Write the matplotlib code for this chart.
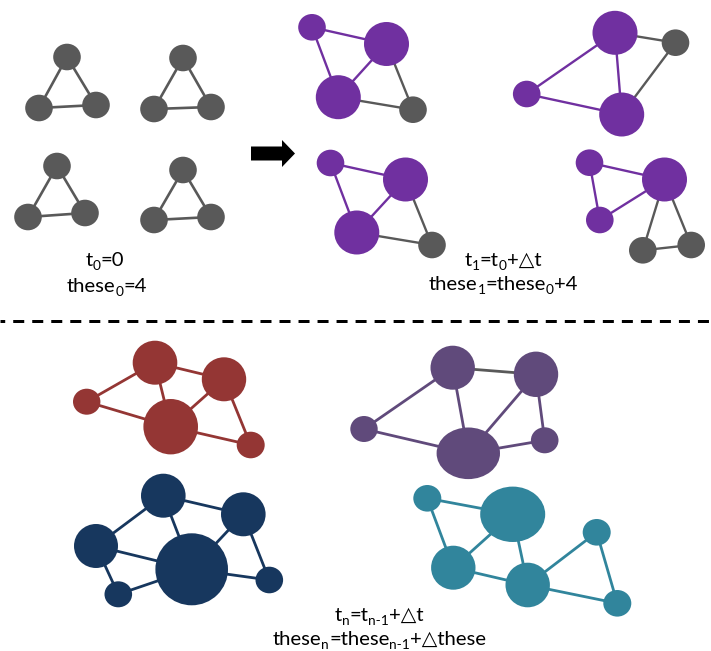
import matplotlib
matplotlib.use('Agg')
import matplotlib.pyplot as plt
from matplotlib.patches import Ellipse, FancyArrow

# ---------------- colours ----------------
GRAY = '#595959'
PURPLE = '#7030A0'
RED = '#943634'
PLUM = '#604A7B'
NAVY = '#17375E'
TEAL = '#31859C'
FONT = ['Lato', 'DejaVu Sans']

# ---------------- data: t0 (four isolated triangles) ----------------
tri_edges = [(0, 1), (0, 2), (1, 2)]
g0a_x = [67, 39, 96];    g0a_y = [57, 108, 105]
g0b_x = [183, 154, 211]; g0b_y = [58, 109, 107]
g0c_x = [57, 28, 85];    g0c_y = [166, 217, 213]
g0d_x = [183, 154, 211]; g0d_y = [170, 220, 217]
tri_rx = [13.8, 13.8, 13.8]
tri_ry = [13.3, 13.3, 13.3]
tri_fill = [GRAY, GRAY, GRAY]
tri_ecol = [GRAY, GRAY, GRAY]

# ---------------- data: t1 ----------------
g1a_x = [312, 386.5, 338.3, 413]
g1a_y = [27.3, 44, 97.2, 109.7]
g1a_rx = [13.8, 22.5, 22.5, 13.8]
g1a_ry = [13.3, 22, 22, 13.3]
g1a_fill = [PURPLE, PURPLE, PURPLE, GRAY]
g1a_edges = [(0, 1), (0, 2), (1, 2), (1, 3), (2, 3)]
g1a_ecol = [PURPLE, PURPLE, PURPLE, GRAY, GRAY]

g1b_x = [615, 675.5, 526.7, 621.7]
g1b_y = [32.8, 42.7, 94, 114.5]
g1b_rx = [22.5, 13.8, 13.8, 22.5]
g1b_ry = [22, 13.3, 13.3, 22]
g1b_fill = [PURPLE, GRAY, PURPLE, PURPLE]
g1b_edges = [(0, 1), (0, 2), (0, 3), (2, 3), (1, 3)]
g1b_ecol = [GRAY, PURPLE, PURPLE, PURPLE, GRAY]

g1c_x = [330.5, 405.5, 356.8, 432]
g1c_y = [163, 179.5, 232.5, 245]
g1c_rx = [13.8, 22.5, 22.5, 13.8]
g1c_ry = [13.3, 22, 22, 13.3]
g1c_fill = [PURPLE, PURPLE, PURPLE, GRAY]
g1c_edges = [(0, 1), (0, 2), (1, 2), (1, 3), (2, 3)]
g1c_ecol = [PURPLE, PURPLE, PURPLE, GRAY, GRAY]

g1d_x = [589.5, 664.5, 599.8, 642.8, 691.2]
g1d_y = [162.7, 179.5, 220, 250.3, 245]
g1d_rx = [13.8, 22.5, 13.8, 13.8, 13.8]
g1d_ry = [13.3, 22, 13.3, 13.3, 13.3]
g1d_fill = [PURPLE, PURPLE, PURPLE, GRAY, GRAY]
g1d_edges = [(0, 1), (0, 2), (2, 1), (1, 3), (1, 4), (3, 4)]
g1d_ecol = [PURPLE, PURPLE, PURPLE, GRAY, GRAY, GRAY]

# ---------------- data: tn ----------------
gna_x = [155, 224, 86.7, 170.7, 250.7]
gna_y = [362.7, 379.3, 401.7, 426.7, 445]
gna_rx = [22.3, 22.2, 13.7, 27.3, 14]
gna_ry = [22, 22, 13, 27.7, 13.3]
gna_edges = [(0, 2), (0, 1), (0, 3), (1, 3), (1, 4), (2, 3), (3, 4)]

gnb_x = [452.7, 536, 364, 468.3, 544.7]
gnb_y = [367.7, 374.3, 429, 453.3, 440.3]
gnb_rx = [22.2, 22.2, 13.7, 31.7, 13.8]
gnb_ry = [22, 22.7, 13, 25.8, 13]
gnb_edges = [(0, 2), (0, 1), (0, 3), (1, 3), (1, 4), (2, 3), (3, 4)]
gnb_ecol = [PLUM, GRAY, PLUM, PLUM, PLUM, PLUM, PLUM]

gnc_x = [163.3, 243.3, 96, 191.7, 269.3, 118.3]
gnc_y = [495.7, 514.3, 546, 569.3, 580, 594.3]
gnc_rx = [22.3, 22.3, 22, 36.3, 13.8, 13.8]
gnc_ry = [22, 22, 22, 36, 13.3, 13]
gnc_edges = [(0, 2), (0, 1), (0, 3), (1, 3), (1, 4), (2, 3), (2, 5), (5, 3), (3, 4)]

gnd_x = [427.3, 512.7, 453.3, 527.7, 596.7, 617.3]
gnd_y = [498.3, 514.3, 567.7, 585, 532.3, 603.3]
gnd_rx = [14, 32.5, 22.2, 22.2, 14, 14]
gnd_ry = [13.3, 27.7, 22, 22.3, 13.3, 13.3]
gnd_edges = [(0, 1), (0, 2), (1, 2), (1, 3), (2, 3), (3, 4), (3, 5), (4, 5)]

# ---------------- figure ----------------
fig = plt.figure(figsize=(7.11, 6.51), dpi=100)
ax = fig.add_axes([0, 0, 1, 1])
ax.set_xlim(0, 711)
ax.set_ylim(651, 0)
ax.axis('off')


def draw_graph(xs, ys, rxs, rys, fills, edges, ecols, lw):
    for (a, b), c in zip(edges, ecols):
        ax.plot([xs[a], xs[b]], [ys[a], ys[b]], color=c, lw=lw,
                solid_capstyle='butt', zorder=1)
    for x, y, rx, ry, f in zip(xs, ys, rxs, rys, fills):
        ax.add_patch(Ellipse((x, y), 2 * rx, 2 * ry, facecolor=f,
                             edgecolor='none', zorder=2))


for gx, gy in [(g0a_x, g0a_y), (g0b_x, g0b_y), (g0c_x, g0c_y), (g0d_x, g0d_y)]:
    draw_graph(gx, gy, tri_rx, tri_ry, tri_fill, tri_edges, tri_ecol, 1.9)

draw_graph(g1a_x, g1a_y, g1a_rx, g1a_ry, g1a_fill, g1a_edges, g1a_ecol, 1.7)
draw_graph(g1b_x, g1b_y, g1b_rx, g1b_ry, g1b_fill, g1b_edges, g1b_ecol, 1.7)
draw_graph(g1c_x, g1c_y, g1c_rx, g1c_ry, g1c_fill, g1c_edges, g1c_ecol, 1.7)
draw_graph(g1d_x, g1d_y, g1d_rx, g1d_ry, g1d_fill, g1d_edges, g1d_ecol, 1.7)

draw_graph(gna_x, gna_y, gna_rx, gna_ry, [RED] * len(gna_x), gna_edges,
           [RED] * len(gna_edges), 2.0)
draw_graph(gnb_x, gnb_y, gnb_rx, gnb_ry, [PLUM] * len(gnb_x), gnb_edges,
           gnb_ecol, 2.0)
draw_graph(gnc_x, gnc_y, gnc_rx, gnc_ry, [NAVY] * len(gnc_x), gnc_edges,
           [NAVY] * len(gnc_edges), 2.0)
draw_graph(gnd_x, gnd_y, gnd_rx, gnd_ry, [TEAL] * len(gnd_x), gnd_edges,
           [TEAL] * len(gnd_edges), 2.0)

# arrow
ax.add_patch(FancyArrow(251, 153.5, 44, 0, width=14, head_width=27,
                        head_length=13, length_includes_head=True,
                        color='black', lw=0, zorder=3))

# dashed separator
ax.plot([0, 711], [321.3, 321.3], color='black', lw=2.16,
        dash_capstyle='butt', linestyle=(2.1, (3.67, 2.67)))

# ---------------- rich text with subscripts ----------------
renderer = fig.canvas.get_renderer()
SIZE = 14.6


def rich(cx, base_y, pieces, size=SIZE):
    objs = []
    for s, sub in pieces:
        fs = size * 0.68 if sub else size
        t = ax.text(0, 0, s, fontsize=fs, family=FONT, va='baseline',
                    ha='left', color='black')
        objs.append((t, sub))
    widths = [t.get_window_extent(renderer).width for t, _ in objs]
    x = cx - sum(widths) / 2
    for (t, sub), w in zip(objs, widths):
        t.set_position((x, base_y + (size * 0.2 * 100 / 72 if sub else 0)))
        x += w


rich(105, 265.5, [('t', 0), ('0', 1), ('=0', 0)])
rich(107, 291.5, [('these', 0), ('0', 1), ('=4', 0)])
rich(503, 266, [('t', 0), ('1', 1), ('=t', 0), ('0', 1), ('+△t', 0)])
rich(503, 290, [('these', 0), ('1', 1), ('=these', 0), ('0', 1), ('+4', 0)])
rich(379, 620.7, [('t', 0), ('n', 1), ('=t', 0), ('n-1', 1), ('+△t', 0)])
rich(379.5, 645, [('these', 0), ('n', 1), ('=these', 0), ('n-1', 1), ('+△these', 0)])

fig.savefig('out.png', dpi=100)
